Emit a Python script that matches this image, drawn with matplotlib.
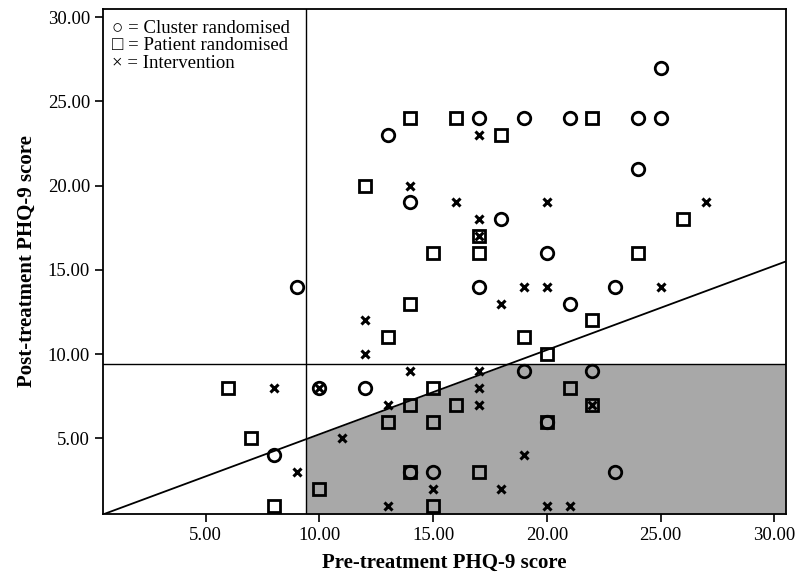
import numpy as np
import matplotlib
matplotlib.use("Agg")
import matplotlib.pyplot as plt

plt.rcParams['font.family'] = ['Liberation Serif', 'DejaVu Serif']

# pre / post PHQ-9 scores
cluster_pre = [25, 17, 19, 21, 24, 25, 13, 24, 14, 18, 20, 9, 17, 23, 21, 19, 22, 10, 12, 8, 14, 15, 23, 20]
cluster_post = [27, 24, 24, 24, 24, 24, 23, 21, 19, 18, 16, 14, 14, 14, 13, 9, 9, 8, 8, 4, 3, 3, 3, 6]

patient_pre = [14, 16, 22, 18, 12, 17, 26, 17, 15, 24, 14, 13, 22, 19, 20, 6, 15, 21, 14, 16, 22, 13, 15, 20, 7, 14, 17, 10, 8, 15]
patient_post = [24, 24, 24, 23, 20, 17, 18, 16, 16, 16, 13, 11, 12, 11, 10, 8, 8, 8, 7, 7, 7, 6, 6, 6, 5, 3, 3, 2, 1, 1]

interv_pre = [17, 14, 16, 20, 27, 17, 17, 12, 19, 20, 25, 18, 12, 14, 17, 8, 10, 17, 13, 17, 22, 11, 19, 9, 18, 15, 13, 20, 21]
interv_post = [23, 20, 19, 19, 19, 18, 17, 12, 14, 14, 14, 13, 10, 9, 9, 8, 8, 8, 7, 7, 7, 5, 4, 3, 2, 2, 1, 1, 1]

cutoff = 9.4
lims = (0.5, 30.5)
ticks = [5, 10, 15, 20, 25, 30]

fig = plt.figure(figsize=(7.96, 5.78), dpi=100)
ax = fig.add_axes([0.1298, 0.1102, 0.8573, 0.8748])

# shaded "improved" area: right of cutoff, below cutoff and below the 50% line
xs = np.linspace(cutoff, lims[1], 200)
line_y = 0.5 * xs + 0.25
ax.fill_between(xs, lims[0], np.minimum(cutoff, line_y), color='#a8a8a8', lw=0, zorder=0)

ax.axvline(cutoff, color='black', lw=1.0, zorder=1)
ax.axhline(cutoff, color='black', lw=1.0, zorder=1)
ax.plot([lims[0], lims[1]], [0.5 * lims[0] + 0.25, 0.5 * lims[1] + 0.25], color='black', lw=1.3, zorder=1)

ax.plot(cluster_pre, cluster_post, 'o', ms=9, mfc='none', mec='black', mew=2, zorder=3)
ax.plot(patient_pre, patient_post, 's', ms=9, mfc='none', mec='black', mew=2, zorder=3)
ax.plot(interv_pre, interv_post, 'x', ms=6, mec='black', mew=2.2, zorder=4)

ax.set_xlim(lims)
ax.set_ylim(lims)
ax.set_xticks(ticks)
ax.set_yticks(ticks)
ax.set_xticklabels(['%.2f' % t for t in ticks], fontsize=13.5)
ax.set_yticklabels(['%.2f' % t for t in ticks], fontsize=13.5)
ax.tick_params(direction='out', length=6, width=1.2, color='black')
for s in ax.spines.values():
    s.set_linewidth(1.3)

ax.set_xlabel('Pre-treatment PHQ-9 score', fontsize=15, fontweight='bold', labelpad=6)
ax.set_ylabel('Post-treatment PHQ-9 score', fontsize=15, fontweight='bold', labelpad=8)

ax.text(0.013, 0.978, '\u25cb = Cluster randomised\n\u25a1 = Patient randomised\n\u00d7 = Intervention',
        transform=ax.transAxes, va='top', ha='left', fontsize=13.5, linespacing=1.05)

fig.savefig('out.png', dpi=100)
